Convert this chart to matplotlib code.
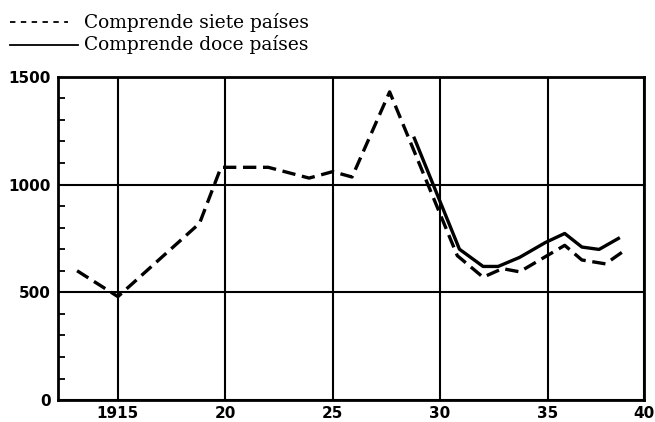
import matplotlib
matplotlib.use('Agg')
import matplotlib.pyplot as plt
from matplotlib.ticker import MultipleLocator

# siete paises (linea de trazos)
anios_siete = [1913.1, 1915, 1918.8, 1919.8, 1922.0, 1923.9, 1925.0, 1925.9,
               1927.65, 1930.8, 1932.0, 1932.9, 1933.7, 1935.8,
               1936.6, 1937.7, 1938.6]
valores_siete = [600, 480, 820, 1080, 1080, 1030, 1060, 1035,
                 1430, 670, 570, 610, 595, 718,
                 650, 632, 695]

# doce paises (linea continua)
anios_doce = [1928.8, 1930.9, 1932.0, 1932.7, 1933.7, 1934.9, 1935.8,
              1936.6, 1937.4, 1938.3]
valores_doce = [1215, 700, 620, 620, 662, 731, 773, 710, 699, 750]

x_ticks = [1915, 1920, 1925, 1930, 1935, 1939.47]
x_labels = ['1915', '20', '25', '30', '35', '40']
y_ticks = [0, 500, 1000, 1500]

fig = plt.figure(figsize=(6.55, 4.22), dpi=100)
ax = fig.add_axes([0.0885, 0.052, 0.894, 0.766])

ax.plot(anios_siete, valores_siete, color='black', lw=2.4,
        dashes=(4, 2), solid_capstyle='butt', dash_capstyle='butt', zorder=3)
ax.plot(anios_doce, valores_doce, color='black', lw=2.4, zorder=3)

ax.set_xlim(1912.21, 1939.47)
ax.set_ylim(0, 1500)
ax.set_xticks(x_ticks)
ax.set_xticklabels(x_labels)
ax.set_yticks(y_ticks)
ax.yaxis.set_minor_locator(MultipleLocator(100))
ax.grid(True, which='major', color='black', lw=1.5)
for s in ax.spines.values():
    s.set_linewidth(2)
ax.tick_params(axis='both', which='major', length=0, pad=5)
ax.tick_params(axis='x', pad=4)
ax.tick_params(axis='y', which='minor', direction='in', length=5, width=1.3)
for lab in ax.get_xticklabels() + ax.get_yticklabels():
    lab.set_fontfamily('DejaVu Sans')
    lab.set_fontweight('bold')
    lab.set_fontsize(11)

# leyenda arriba a la izquierda
fig.lines.append(plt.Line2D([10 / 655, 68 / 655], [1 - 22 / 422, 1 - 22 / 422],
                            transform=fig.transFigure, color='black', lw=1.3,
                            dashes=(3, 3)))
fig.lines.append(plt.Line2D([10 / 655, 78 / 655], [1 - 45 / 422, 1 - 45 / 422],
                            transform=fig.transFigure, color='black', lw=1.3))
fig.text(84 / 655, 1 - 22 / 422, 'Comprende siete países', family='DejaVu Serif',
         fontsize=13.4, va='center', ha='left')
fig.text(84 / 655, 1 - 45 / 422, 'Comprende doce países', family='DejaVu Serif',
         fontsize=13.4, va='center', ha='left')

fig.savefig('out.png', dpi=100)
